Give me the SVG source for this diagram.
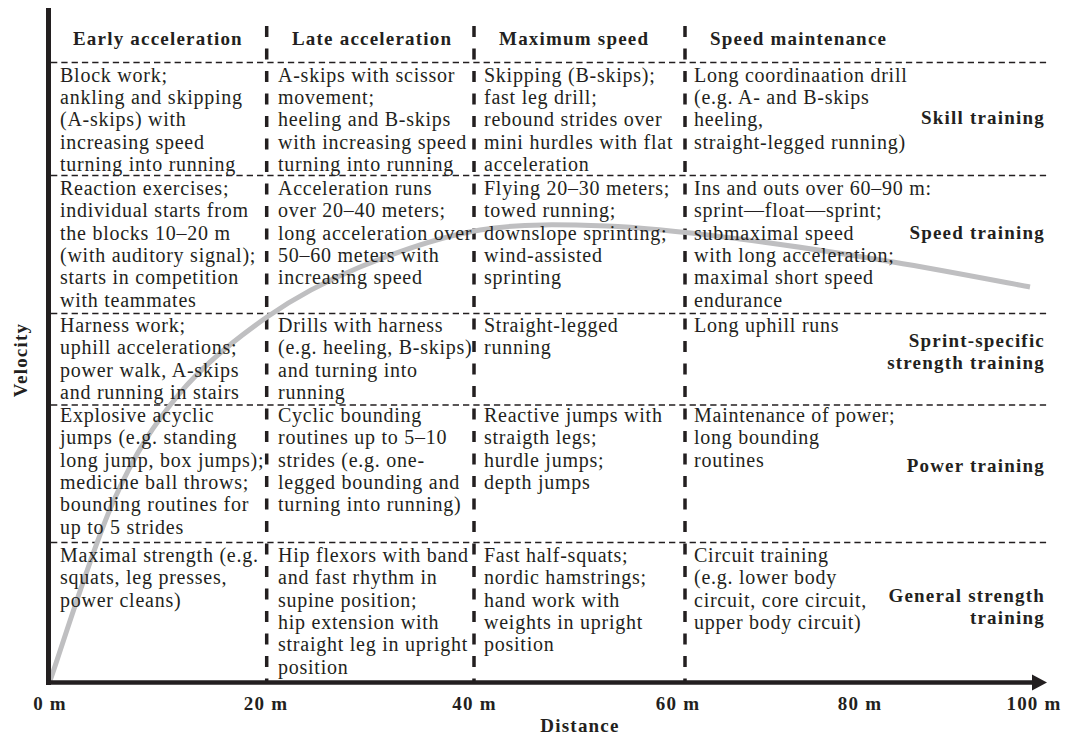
<svg xmlns="http://www.w3.org/2000/svg" width="1070" height="737" viewBox="0 0 1070 737">
<style>
.b{font-family:"Liberation Serif","Times New Roman",serif;font-size:20px;letter-spacing:0.75px;fill:#231f20}
.h{font-family:"Liberation Serif","Times New Roman",serif;font-size:19px;font-weight:bold;letter-spacing:1.2px;fill:#231f20}
.hl{stroke:#231f20;stroke-width:1.3;stroke-dasharray:6.3 4;fill:none}
.vl{stroke:#231f20;stroke-width:3.5;stroke-dasharray:11 11.5;fill:none}
.ax{stroke:#231f20;fill:none}
</style>
<rect width="1070" height="737" fill="#ffffff"/>
<g id="connectors">
  <g id="grid">
    <line class="hl" x1="51" y1="62.5" x2="1048" y2="62.5"/>
    <line class="hl" x1="51" y1="175.5" x2="1048" y2="175.5"/>
    <line class="hl" x1="51" y1="313.5" x2="1048" y2="313.5"/>
    <line class="hl" x1="51" y1="405" x2="1048" y2="405"/>
    <line class="hl" x1="51" y1="542.5" x2="1048" y2="542.5"/>
    <line class="vl" x1="266.7" y1="26" x2="266.7" y2="681"/>
    <line class="vl" x1="474" y1="26" x2="474" y2="681"/>
    <line class="vl" x1="685" y1="26" x2="685" y2="681"/>
  </g>
  <path id="velocity-curve" d="M50 681 C60.7 650.8 92.3 548 114 500 C135.7 452 154.5 423.5 180 393 C205.5 362.5 237 338 267 317 C297 296 324.5 281.5 360 267 C395.5 252.5 438.8 236.8 480 230 C521.2 223.2 563.7 224.5 607 226 C650.3 227.5 692.3 233 740 239 C787.7 245 844.7 254 893 262 C941.3 270 1007.2 282.8 1030 287" fill="none" stroke="#bfbfc1" stroke-width="5"/>
  <g id="axes">
    <line class="ax" x1="48.5" y1="8" x2="48.5" y2="685" stroke-width="5"/>
    <line class="ax" x1="46" y1="682.5" x2="1036" y2="682.5" stroke-width="4.5"/>
    <polygon points="1032,674.5 1047,682.5 1032,690.5" fill="#231f20"/>
  </g>
</g>
<g id="axis-labels">
  <text class="h" x="50" y="710" text-anchor="middle">0 m</text>
  <text class="h" x="266" y="710" text-anchor="middle">20 m</text>
  <text class="h" x="474.5" y="710" text-anchor="middle">40 m</text>
  <text class="h" x="678" y="710" text-anchor="middle">60 m</text>
  <text class="h" x="860" y="710" text-anchor="middle">80 m</text>
  <text class="h" x="1034" y="710" text-anchor="middle">100 m</text>
  <text class="h" x="580" y="732" text-anchor="middle">Distance</text>
  <text class="h" transform="translate(27 360) rotate(-90)" text-anchor="middle">Velocity</text>
</g>
<g id="headers">
  <text id="h-early" class="h" x="73" y="44.5">Early acceleration</text>
  <text id="h-late" class="h" x="292" y="44.5">Late acceleration</text>
  <text id="h-max" class="h" x="499" y="44.5">Maximum speed</text>
  <text id="h-maint" class="h" x="710" y="44.5">Speed maintenance</text>
</g>
<g id="row-labels">
  <text id="l-skill" class="h" x="1045" y="124" text-anchor="end">Skill training</text>
  <text id="l-speed" class="h" x="1045" y="239" text-anchor="end">Speed training</text>
  <text id="l-sprint" class="h" text-anchor="end"><tspan x="1045" y="347">Sprint-specific</tspan><tspan x="1045" y="368.5">strength training</tspan></text>
  <text id="l-power" class="h" x="1045" y="471.5" text-anchor="end">Power training</text>
  <text id="l-general" class="h" text-anchor="end"><tspan x="1045" y="602">General strength</tspan><tspan x="1045" y="624">training</tspan></text>
</g>
<g id="row-skill">
  <text id="c11" class="b"><tspan x="60" y="81.7">Block work;</tspan><tspan x="60" y="104">ankling and skipping</tspan><tspan x="60" y="126.3">(A-skips) with</tspan><tspan x="60" y="148.6">increasing speed</tspan><tspan x="60" y="170.9">turning into running</tspan></text>
  <text id="c12" class="b"><tspan x="278" y="81.7">A-skips with scissor</tspan><tspan x="278" y="104">movement;</tspan><tspan x="278" y="126.3">heeling and B-skips</tspan><tspan x="278" y="148.6">with increasing speed</tspan><tspan x="278" y="170.9">turning into running</tspan></text>
  <text id="c13" class="b"><tspan x="484" y="81.7">Skipping (B-skips);</tspan><tspan x="484" y="104">fast leg drill;</tspan><tspan x="484" y="126.3">rebound strides over</tspan><tspan x="484" y="148.6">mini hurdles with flat</tspan><tspan x="484" y="170.9">acceleration</tspan></text>
  <text id="c14" class="b"><tspan x="694" y="81.7">Long coordinaation drill</tspan><tspan x="694" y="104">(e.g. A- and B-skips</tspan><tspan x="694" y="126.3">heeling,</tspan><tspan x="694" y="148.6">straight-legged running)</tspan></text>
</g>
<g id="row-speed">
  <text id="c21" class="b"><tspan x="60" y="195">Reaction exercises;</tspan><tspan x="60" y="217.3">individual starts from</tspan><tspan x="60" y="239.6">the blocks 10–20 m</tspan><tspan x="60" y="261.9">(with auditory signal);</tspan><tspan x="60" y="284.2">starts in competition</tspan><tspan x="60" y="306.5">with teammates</tspan></text>
  <text id="c22" class="b"><tspan x="278" y="195">Acceleration runs</tspan><tspan x="278" y="217.3">over 20–40 meters;</tspan><tspan x="278" y="239.6">long acceleration over</tspan><tspan x="278" y="261.9">50–60 meters with</tspan><tspan x="278" y="284.2">increasing speed</tspan></text>
  <text id="c23" class="b"><tspan x="484" y="195">Flying 20–30 meters;</tspan><tspan x="484" y="217.3">towed running;</tspan><tspan x="484" y="239.6">downslope sprinting;</tspan><tspan x="484" y="261.9">wind-assisted</tspan><tspan x="484" y="284.2">sprinting</tspan></text>
  <text id="c24" class="b"><tspan x="694" y="195">Ins and outs over 60–90 m:</tspan><tspan x="694" y="217.3">sprint—float—sprint;</tspan><tspan x="694" y="239.6">submaximal speed</tspan><tspan x="694" y="261.9">with long acceleration;</tspan><tspan x="694" y="284.2">maximal short speed</tspan><tspan x="694" y="306.5">endurance</tspan></text>
</g>
<g id="row-sprint">
  <text id="c31" class="b"><tspan x="60" y="332">Harness work;</tspan><tspan x="60" y="354.3">uphill accelerations;</tspan><tspan x="60" y="376.6">power walk, A-skips</tspan><tspan x="60" y="398.9">and running in stairs</tspan></text>
  <text id="c32" class="b"><tspan x="278" y="332">Drills with harness</tspan><tspan x="278" y="354.3">(e.g. heeling, B-skips)</tspan><tspan x="278" y="376.6">and turning into</tspan><tspan x="278" y="398.9">running</tspan></text>
  <text id="c33" class="b"><tspan x="484" y="332">Straight-legged</tspan><tspan x="484" y="354.3">running</tspan></text>
  <text id="c34" class="b"><tspan x="694" y="332">Long uphill runs</tspan></text>
</g>
<g id="row-power">
  <text id="c41" class="b"><tspan x="60" y="422">Explosive acyclic</tspan><tspan x="60" y="444.3">jumps (e.g. standing</tspan><tspan x="60" y="466.6">long jump, box jumps);</tspan><tspan x="60" y="488.9">medicine ball throws;</tspan><tspan x="60" y="511.2">bounding routines for</tspan><tspan x="60" y="533.5">up to 5 strides</tspan></text>
  <text id="c42" class="b"><tspan x="278" y="422">Cyclic bounding</tspan><tspan x="278" y="444.3">routines up to 5–10</tspan><tspan x="278" y="466.6">strides (e.g. one-</tspan><tspan x="278" y="488.9">legged bounding and</tspan><tspan x="278" y="511.2">turning into running)</tspan></text>
  <text id="c43" class="b"><tspan x="484" y="422">Reactive jumps with</tspan><tspan x="484" y="444.3">straigth legs;</tspan><tspan x="484" y="466.6">hurdle jumps;</tspan><tspan x="484" y="488.9">depth jumps</tspan></text>
  <text id="c44" class="b"><tspan x="694" y="422">Maintenance of power;</tspan><tspan x="694" y="444.3">long bounding</tspan><tspan x="694" y="466.6">routines</tspan></text>
</g>
<g id="row-general">
  <text id="c51" class="b"><tspan x="60" y="562">Maximal strength (e.g.</tspan><tspan x="60" y="584.3">squats, leg presses,</tspan><tspan x="60" y="606.6">power cleans)</tspan></text>
  <text id="c52" class="b"><tspan x="278" y="562">Hip flexors with band</tspan><tspan x="278" y="584.3">and fast rhythm in</tspan><tspan x="278" y="606.6">supine position;</tspan><tspan x="278" y="628.9">hip extension with</tspan><tspan x="278" y="651.2">straight leg in upright</tspan><tspan x="278" y="673.5">position</tspan></text>
  <text id="c53" class="b"><tspan x="484" y="562">Fast half-squats;</tspan><tspan x="484" y="584.3">nordic hamstrings;</tspan><tspan x="484" y="606.6">hand work with</tspan><tspan x="484" y="628.9">weights in upright</tspan><tspan x="484" y="651.2">position</tspan></text>
  <text id="c54" class="b"><tspan x="694" y="562">Circuit training</tspan><tspan x="694" y="584.3">(e.g. lower body</tspan><tspan x="694" y="606.6">circuit, core circuit,</tspan><tspan x="694" y="628.9">upper body circuit)</tspan></text>
</g>
</svg>
